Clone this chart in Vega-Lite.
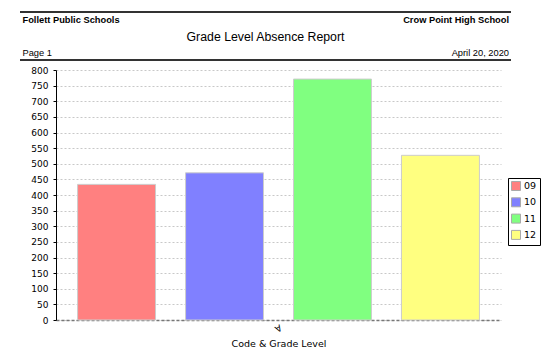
{
  "$schema": "https://vega.github.io/schema/vega-lite/v6.json",
  "autosize": {"type": "none"},
  "width": 445,
  "height": 250,
  "padding": {"left": 56, "top": 70, "right": 53, "bottom": 36},
  "background": "white",
  "config": {"view": {"stroke": null}},
  "layer": [
    {
      "data": {"values": [
        {"code": "A", "grade": "09", "absences": 434},
        {"code": "A", "grade": "10", "absences": 471},
        {"code": "A", "grade": "11", "absences": 771},
        {"code": "A", "grade": "12", "absences": 527}
      ]},
      "mark": {"type": "bar", "stroke": "#cccccc", "strokeWidth": 1},
      "encoding": {
        "x": {
          "field": "code", "type": "nominal",
          "scale": {"paddingInner": 0, "paddingOuter": 0},
          "axis": {
            "title": "Code & Grade Level",
            "titleFont": "DejaVu Sans", "titleFontSize": 9.5, "titleFontWeight": "normal", "titleColor": "#000",
            "titlePadding": 6,
            "labelFont": "DejaVu Sans", "labelFontSize": 9, "labelColor": "#000",
            "labelAngle": 150, "labelPadding": 2,
            "ticks": false,
            "domainColor": "#777777", "domainDash": [3, 2], "domainWidth": 1.5
          }
        },
        "xOffset": {
          "field": "grade", "type": "nominal",
          "scale": {"paddingInner": 0.278, "paddingOuter": 0.2}
        },
        "y": {
          "field": "absences", "type": "quantitative",
          "scale": {"domain": [0, 800], "nice": false},
          "axis": {
            "title": null,
            "values": [0, 50, 100, 150, 200, 250, 300, 350, 400, 450, 500, 550, 600, 650, 700, 750, 800],
            "labelFont": "DejaVu Sans", "labelFontSize": 9, "labelColor": "#000",
            "tickSize": 3, "tickColor": "#000", "labelPadding": 5,
            "domainColor": "#000",
            "grid": true, "gridColor": "#c8c8c8", "gridDash": [2, 2], "gridWidth": 1
          }
        },
        "color": {
          "field": "grade", "type": "nominal",
          "scale": {"domain": ["09", "10", "11", "12"], "range": ["#ff8080", "#8080ff", "#80ff80", "#ffff80"]},
          "legend": {
            "title": null,
            "orient": "none", "legendX": 452, "legendY": 108,
            "strokeColor": "#000", "padding": 3,
            "symbolType": "square", "symbolSize": 81, "symbolStrokeColor": "#aaaaaa", "symbolStrokeWidth": 1, "symbolOpacity": 1,
            "labelFont": "DejaVu Sans", "labelFontSize": 9.5, "labelColor": "#000",
            "rowPadding": 2.3, "labelOffset": 3
          }
        }
      }
    },
    {
      "data": {"values": [{}]},
      "mark": {"type": "rule", "color": "#333333", "strokeWidth": 2},
      "encoding": {"x": {"value": -36}, "x2": {"value": 455}, "y": {"value": -58}}
    },
    {
      "data": {"values": [{}]},
      "mark": {"type": "rule", "color": "#333333", "strokeWidth": 2},
      "encoding": {"x": {"value": -36}, "x2": {"value": 455}, "y": {"value": -10}}
    },
    {
      "data": {"values": [{}]},
      "mark": {"type": "text", "text": "Follett Public Schools", "font": "Liberation Sans", "fontSize": 9.3, "fontWeight": "bold", "align": "left", "baseline": "alphabetic", "color": "#000"},
      "encoding": {"x": {"value": -33.5}, "y": {"value": -47.5}}
    },
    {
      "data": {"values": [{}]},
      "mark": {"type": "text", "text": "Crow Point High School", "font": "Liberation Sans", "fontSize": 9.3, "fontWeight": "bold", "align": "right", "baseline": "alphabetic", "color": "#000"},
      "encoding": {"x": {"value": 453}, "y": {"value": -47.5}}
    },
    {
      "data": {"values": [{}]},
      "mark": {"type": "text", "text": "Grade Level Absence Report", "font": "Liberation Sans", "fontSize": 12.3, "align": "center", "baseline": "alphabetic", "color": "#000"},
      "encoding": {"x": {"value": 209.5}, "y": {"value": -29.3}}
    },
    {
      "data": {"values": [{}]},
      "mark": {"type": "text", "text": "Page 1", "font": "Liberation Sans", "fontSize": 9.3, "align": "left", "baseline": "alphabetic", "color": "#000"},
      "encoding": {"x": {"value": -33.5}, "y": {"value": -14.3}}
    },
    {
      "data": {"values": [{}]},
      "mark": {"type": "text", "text": "April 20, 2020", "font": "Liberation Sans", "fontSize": 9.3, "align": "right", "baseline": "alphabetic", "color": "#000"},
      "encoding": {"x": {"value": 453}, "y": {"value": -14.3}}
    }
  ]
}
